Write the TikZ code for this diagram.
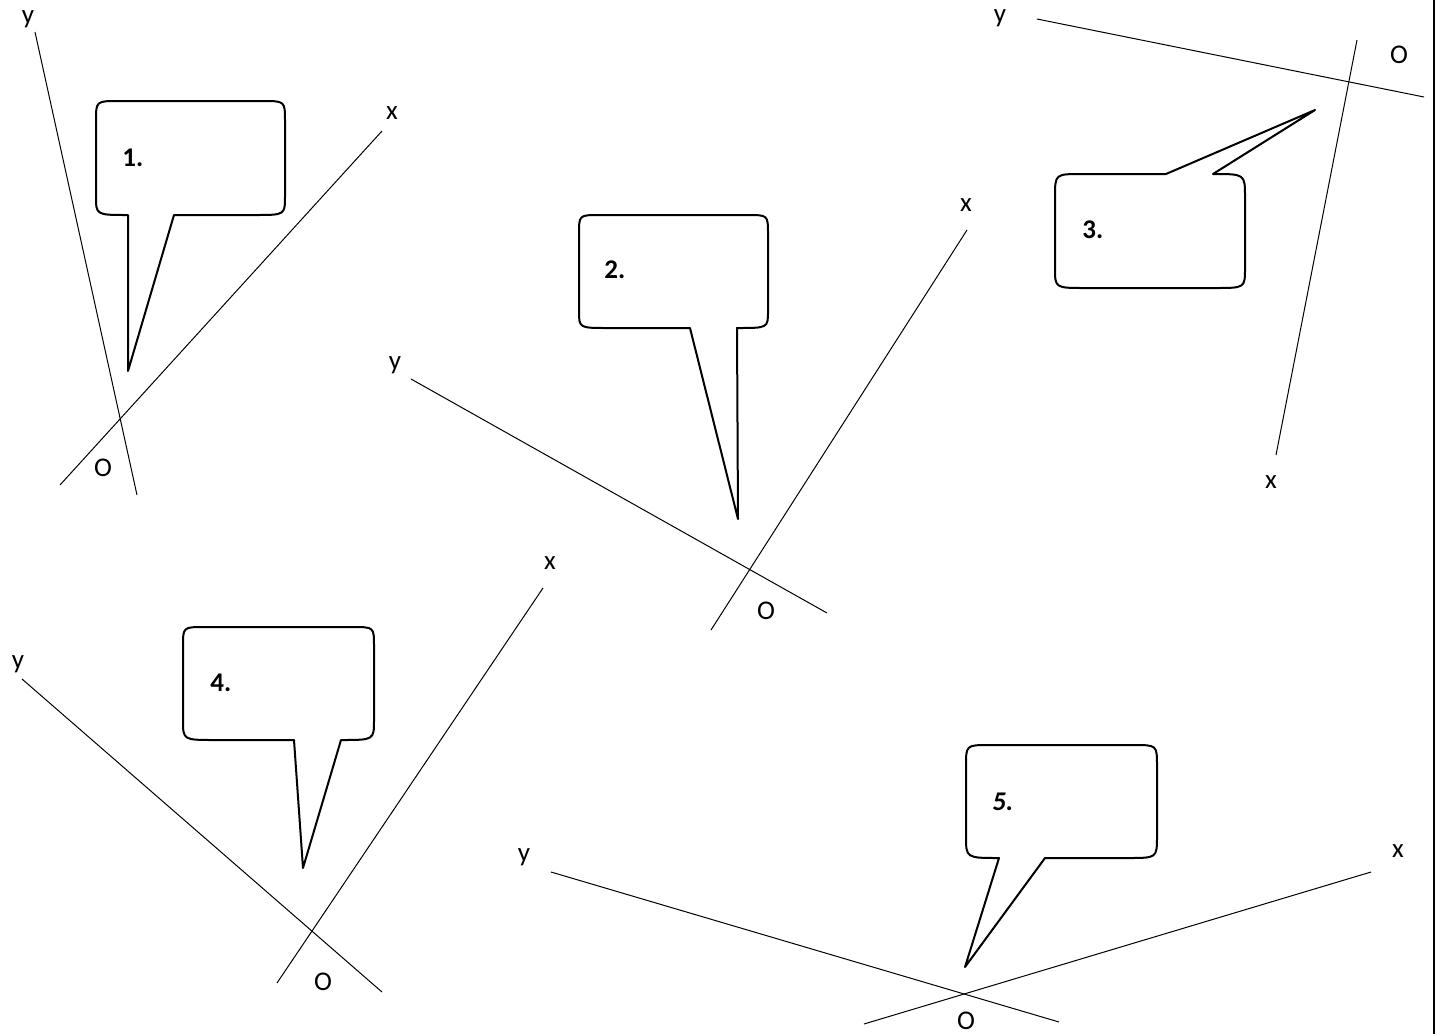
\documentclass[tikz,border=0pt]{standalone}
\usepackage{fontspec}
\setmainfont{Carlito}
\begin{document}
\begin{tikzpicture}[
    x=0.5pt, y=-0.5pt,
    axis/.style={draw=black, line width=0.5pt},
    bubble/.style={draw=black, line width=1pt, line join=round, fill=white},
    lbl/.style={font=\fontsize{13.5}{16}\selectfont, inner sep=0pt},
    num/.style={font=\fontsize{13.5}{16}\selectfont\bfseries, anchor=west, inner sep=0pt}
]
\useasboundingbox (0,0) rectangle (1436,1034);
\draw[line width=1pt] (1434,0) -- (1434,1034); % bordo pagina

% 1.
\draw[axis] (35,32) -- (137,495);
\draw[axis] (60,485) -- (382,131);
\node[lbl] (y1) at (28,19) {y};
\node[lbl] (x1) at (392,113) {x};
\node[lbl] (o1) at (103,468) {O};
\draw[bubble] (96,121) .. controls (96,101) .. (119,101) -- (262,101)
    .. controls (285,101) .. (285,121) -- (285,196) .. controls (285,215) .. (255,215)
    -- (174,215) -- (128,371) -- (128,215) .. controls (96,215) .. (96,196) -- cycle;
\node[num] (n1) at (122,158) {1.};

% 2.
\draw[axis] (967,230) -- (711,630);
\draw[axis] (411,379) -- (827,613);
\node[lbl] (x2) at (966,205) {x};
\node[lbl] (y2) at (395,365) {y};
\node[lbl] (o2) at (766,611) {O};
\draw[bubble] (579,234) .. controls (579,215) .. (600,215) -- (747,215)
    .. controls (768,215) .. (768,234) -- (768,311) .. controls (768,328) .. (737,328)
    -- (738,519) -- (690,328) -- (608,328) .. controls (579,328) .. (579,311) -- cycle;
\node[num] (n2) at (604,270) {2.};

% 3.
\draw[axis] (1037,19) -- (1424,97);
\draw[axis] (1357,40) -- (1276,455);
\node[lbl] (y3) at (1000,18) {y};
\node[lbl] (o3) at (1399,55) {O};
\node[lbl] (x3) at (1271,482) {x};
\draw[bubble] (1055,197) .. controls (1055,174) .. (1082,174) -- (1166,174)
    -- (1315,110) -- (1213,174) .. controls (1245,174) .. (1245,197) -- (1245,268)
    .. controls (1245,288) .. (1215,288) -- (1085,288) .. controls (1055,288) .. (1055,268) -- cycle;
\node[num] (n3) at (1082,230) {3.};

% 4.
\draw[axis] (543,588) -- (277,983);
\draw[axis] (22,679) -- (382,992);
\node[lbl] (x4) at (550,563) {x};
\node[lbl] (y4) at (18,664) {y};
\node[lbl] (o4) at (323,982) {O};
\draw[bubble] (183,646) .. controls (183,627) .. (205,627) -- (352,627)
    .. controls (374,627) .. (374,646) -- (374,720) .. controls (374,740) .. (341,740)
    -- (303,868) -- (294,740) -- (215,740) .. controls (183,740) .. (183,720) -- cycle;
\node[num] (n4) at (210,683) {4.};

% 5.
\draw[axis] (551,872) -- (1059,1022);
\draw[axis] (1371,872) -- (864,1024);
\node[lbl] (y5) at (524,857) {y};
\node[lbl] (x5) at (1398,851) {x};
\node[lbl] (o5) at (966,1021) {O};
\draw[bubble] (966,766) .. controls (966,745) .. (990,745) -- (1133,745)
    .. controls (1157,745) .. (1157,766) -- (1157,836) .. controls (1157,858) .. (1128,858)
    -- (1045,858) -- (965,967) -- (999,858) .. controls (966,858) .. (966,836) -- cycle;
\node[num, font=\fontsize{13.5}{16}\selectfont\bfseries\itshape] (n5) at (992,802) {5.};
\end{tikzpicture}
\end{document}
